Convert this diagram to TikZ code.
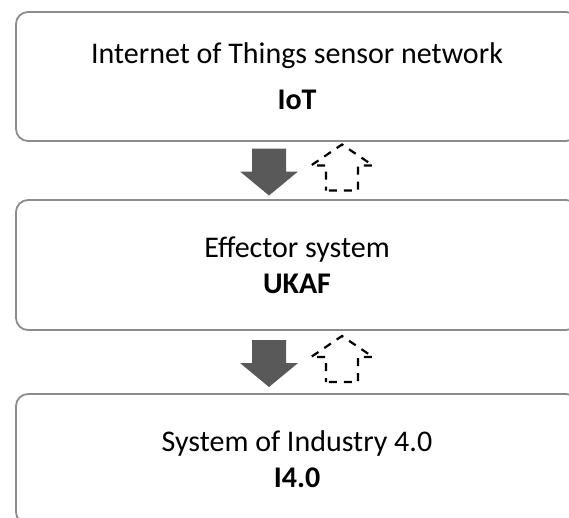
\documentclass[tikz,border=0pt]{standalone}
\usepackage{fontspec}
\setmainfont{Carlito}
\usetikzlibrary{positioning,calc}

\definecolor{boxgray}{HTML}{8C8C8C}
\definecolor{arrowgray}{HTML}{595959}

% one solid arrow down and one dashed arrow up, drawn round the scope origin
\newcommand{\flowarrows}{%
    \fill[flowdown] (-45,-22) -- (-11,-22) -- (-11,1) -- (1,1) -- (-28,25) -- (-57,1) -- (-45,1) -- cycle;
    \draw[feedback] (29,20) -- (29,-5) -- (14,-5) -- (45,-26) -- (76,-5) -- (61,-5) -- (61,20) -- cycle;
}

\begin{document}
\begin{tikzpicture}[x=1pt,y=-1pt,
    stage/.style={draw=boxgray,line width=1.8pt,rounded corners=12pt,minimum width=562pt,minimum height=130pt,
        inner sep=0pt,align=center,font=\fontsize{30}{36}\selectfont},
    flowdown/.style={fill=arrowgray},
    feedback/.style={draw=black,line width=2.2pt,dash pattern=on 8pt off 7pt,dash phase=4pt}]
    \pgfmathsetmacro{\midx}{297}
    \useasboundingbox (0,0) rectangle (569,517);
    \clip (0,0) rectangle (569,517);
    \node[stage,minimum height=129pt] (iot) at (\midx,76.5) {Internet of Things sensor network\\[10pt]\textbf{IoT}};
    \node[stage] (ukaf) at (\midx,265) {Effector system\\\textbf{UKAF}};
    \node[stage] (ind) at (\midx,459) {System of Industry 4.0\\\textbf{I4.0}};
    \begin{scope}[shift={($(iot.south)!0.5!(ukaf.north)$)}]
        \flowarrows
    \end{scope}
    \begin{scope}[shift={($(ukaf.south)!0.5!(ind.north)$)}]
        \flowarrows
    \end{scope}
\end{tikzpicture}
\end{document}
